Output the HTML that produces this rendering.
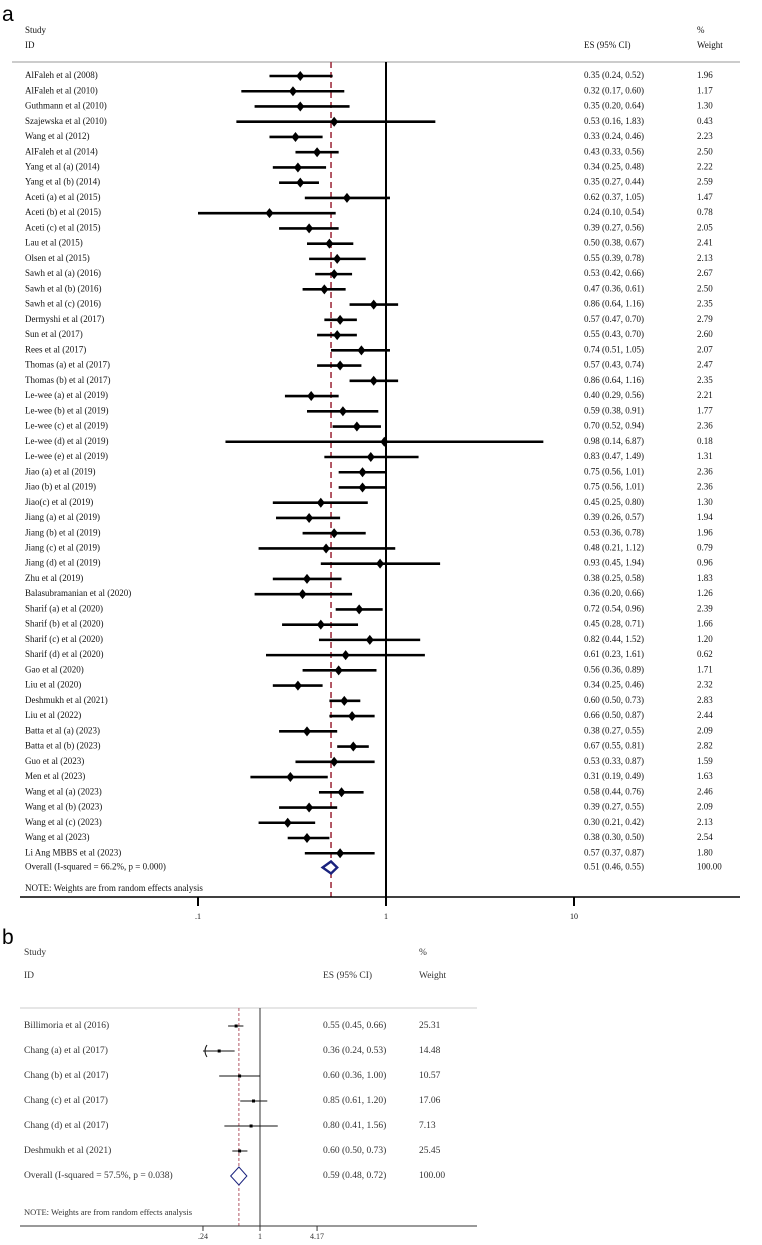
<!DOCTYPE html>
<html><head><meta charset="utf-8"><style>
body{margin:0;background:#fff}
svg text{font-family:"Liberation Serif",serif}
</style></head><body>
<svg id="chart" width="762" height="1240" xmlns="http://www.w3.org/2000/svg">
<text x="2" y="21" font-family="Liberation Sans, sans-serif" style="font-family:'Liberation Sans',sans-serif" font-size="21">a</text>
<text x="2" y="944" style="font-family:'Liberation Sans',sans-serif" font-size="21">b</text>
<g id="pa"></g>
<g id="pb"></g>
</svg>
<script>
const aStudies=["AlFaleh et al (2008)","AlFaleh et al (2010)","Guthmann  et al (2010)","Szajewska et al (2010)","Wang et al (2012)","AlFaleh et al (2014)","Yang et al (a) (2014)","Yang et al (b) (2014)","Aceti (a) et al (2015)","Aceti (b) et al (2015)","Aceti (c) et al (2015)","Lau et al (2015)","Olsen et al (2015)","Sawh et al (a) (2016)","Sawh et al (b) (2016)","Sawh et al (c) (2016)","Dermyshi et al (2017)","Sun et al (2017)","Rees et al (2017)","Thomas (a) et al (2017)","Thomas (b) et al (2017)","Le-wee (a) et al  (2019)","Le-wee (b) et al (2019)","Le-wee (c) et al (2019)","Le-wee (d) et al (2019)","Le-wee (e) et al (2019)","Jiao (a) et al  (2019)","Jiao (b) et al (2019)","Jiao(c) et al (2019)","Jiang (a) et al (2019)","Jiang (b) et al (2019)","Jiang (c) et al (2019)","Jiang (d) et al (2019)","Zhu et al (2019)","Balasubramanian et al (2020)","Sharif (a) et al (2020)","Sharif (b) et al (2020)","Sharif (c) et al (2020)","Sharif (d) et al (2020)","Gao et al (2020)","Liu et al (2020)","Deshmukh et al (2021)","Liu et al (2022)","Batta et al (a) (2023)","Batta et al (b) (2023)","Guo et al (2023)","Men et al (2023)","Wang et al (a) (2023)","Wang et al (b) (2023)","Wang et al (c) (2023)","Wang et al (2023)","Li Ang MBBS et al (2023)"];
const aES=[0.35,0.32,0.35,0.53,0.33,0.43,0.34,0.35,0.62,0.24,0.39,0.50,0.55,0.53,0.47,0.86,0.57,0.55,0.74,0.57,0.86,0.40,0.59,0.70,0.98,0.83,0.75,0.75,0.45,0.39,0.53,0.48,0.93,0.38,0.36,0.72,0.45,0.82,0.61,0.56,0.34,0.60,0.66,0.38,0.67,0.53,0.31,0.58,0.39,0.30,0.38,0.57];
const aLo=[0.24,0.17,0.20,0.16,0.24,0.33,0.25,0.27,0.37,0.10,0.27,0.38,0.39,0.42,0.36,0.64,0.47,0.43,0.51,0.43,0.64,0.29,0.38,0.52,0.14,0.47,0.56,0.56,0.25,0.26,0.36,0.21,0.45,0.25,0.20,0.54,0.28,0.44,0.23,0.36,0.25,0.50,0.50,0.27,0.55,0.33,0.19,0.44,0.27,0.21,0.30,0.37];
const aHi=[0.52,0.60,0.64,1.83,0.46,0.56,0.48,0.44,1.05,0.54,0.56,0.67,0.78,0.66,0.61,1.16,0.70,0.70,1.05,0.74,1.16,0.56,0.91,0.94,6.87,1.49,1.01,1.01,0.80,0.57,0.78,1.12,1.94,0.58,0.66,0.96,0.71,1.52,1.61,0.89,0.46,0.73,0.87,0.55,0.81,0.87,0.49,0.76,0.55,0.42,0.50,0.87];
const aW=["1.96","1.17","1.30","0.43","2.23","2.50","2.22","2.59","1.47","0.78","2.05","2.41","2.13","2.67","2.50","2.35","2.79","2.60","2.07","2.47","2.35","2.21","1.77","2.36","0.18","1.31","2.36","2.36","1.30","1.94","1.96","0.79","0.96","1.83","1.26","2.39","1.66","1.20","0.62","1.71","2.32","2.83","2.44","2.09","2.82","1.59","1.63","2.46","2.09","2.13","2.54","1.80"];
const aOverall=[0.51,0.46,0.55];
const aTicks=[0.1,1,10];
const aTickLabels=[".1","1","10"];

const bStudies=["Billimoria et al (2016)","Chang (a) et al (2017)","Chang (b) et al (2017)","Chang (c) et al (2017)","Chang (d) et al (2017)","Deshmukh et al (2021)"];
const bES=[0.55,0.36,0.60,0.85,0.80,0.60];
const bLo=[0.45,0.24,0.36,0.61,0.41,0.50];
const bHi=[0.66,0.53,1.00,1.20,1.56,0.73];
const bW=["25.31","14.48","10.57","17.06","7.13","25.45"];
const bOverall=[0.59,0.48,0.72];
const bTicks=[0.24,1,4.17];
const bTickLabels=[".24","1","4.17"];

const NS="http://www.w3.org/2000/svg";
function mk(parent,tag,attrs){const e=document.createElementNS(NS,tag);for(const k in attrs)e.setAttribute(k,attrs[k]);parent.appendChild(e);return e;}
function txt(parent,x,y,s,size,fill,anchor){const t=mk(parent,'text',{x:x,y:y,'font-size':size,fill:fill,'dominant-baseline':'middle','text-anchor':anchor||'start'});t.textContent=s;return t;}
function fmt(e,l,h){return e.toFixed(2)+" ("+l.toFixed(2)+", "+h.toFixed(2)+")";}

// Panel A
(function(){
const g=document.getElementById('pa');
const x1=386, dec=188;
const xs=v=>x1+Math.log10(v)*dec;
const y0=76, step=15.24;
const ys=i=>y0+i*step;
const fs=9, col="#111";
let t;
t=txt(g,25,31,"Study",fs,col);
t=txt(g,25,46,"ID",fs,col);
t=txt(g,584,46,"ES (95% CI)",fs,col);
t=txt(g,697,31,"%",fs,col);
t=txt(g,697,46,"Weight",fs,col);
let l=mk(g,'line',{x1:12,x2:740,y1:62,y2:62,stroke:'#bbb','stroke-width':1.5});

const yAxis=897;
l=mk(g,'line',{x1:x1,x2:x1,y1:62,y2:yAxis,stroke:'#000','stroke-width':2});

l=mk(g,'line',{x1:xs(aOverall[0]),x2:xs(aOverall[0]),y1:62,y2:yAxis,stroke:'#a03040','stroke-width':1.6,'stroke-dasharray':'6,4'});

for(let i=0;i<aStudies.length;i++){
 const y=ys(i);
 t=txt(g,25,y,aStudies[i],fs,col);
 t=txt(g,584,y,fmt(aES[i],aLo[i],aHi[i]),fs,col);
 t=txt(g,697,y,aW[i],fs,col);
 l=mk(g,'line',{x1:xs(aLo[i]),x2:xs(aHi[i]),y1:y,y2:y,stroke:'#000','stroke-width':2.6});
 
 const cx=xs(aES[i]);
 const p=mk(g,'polygon',{points:(cx-4)+','+y+' '+cx+','+(y-5)+' '+(cx+4)+','+y+' '+cx+','+(y+5),fill:'#000'});
 
}
const oy=ys(aStudies.length)-1;
t=txt(g,25,oy,"Overall  (I-squared = 66.2%, p = 0.000)",fs,col);
t=txt(g,584,oy,fmt(aOverall[0],aOverall[1],aOverall[2]),fs,col);
t=txt(g,697,oy,"100.00",fs,col);
const d=mk(g,'polygon',{points:xs(aOverall[1])+','+oy+' '+xs(aOverall[0])+','+(oy-6)+' '+xs(aOverall[2])+','+oy+' '+xs(aOverall[0])+','+(oy+6),fill:'#fff',stroke:'#1a237e','stroke-width':2.4});

t=txt(g,25,889,"NOTE: Weights are from random effects analysis",fs,col);
l=mk(g,'line',{x1:20,x2:740,y1:yAxis,y2:yAxis,stroke:'#000','stroke-width':1.5});

for(let i=0;i<aTicks.length;i++){
 const x=xs(aTicks[i]);
 l=mk(g,'line',{x1:x,x2:x,y1:yAxis,y2:yAxis+9,stroke:'#000','stroke-width':2});
 
 t=txt(g,x,917,aTickLabels[i],8,col,'middle');
}
})();

// Panel B
(function(){
const g=document.getElementById('pb');
const x1=260, dec=92;
const xs=v=>x1+Math.log10(v)*dec;
const y0=1026, step=25;
const ys=i=>y0+i*step;
const fs=9.5, col="#333";
const xmin=xs(bTicks[0]);
let t,l;
t=txt(g,24,953,"Study",fs,col);
t=txt(g,24,976,"ID",fs,col);
t=txt(g,323,976,"ES (95% CI)",fs,col);
t=txt(g,419,953,"%",fs,col);
t=txt(g,419,976,"Weight",fs,col);
l=mk(g,'line',{x1:20,x2:477,y1:1008,y2:1008,stroke:'#ccc','stroke-width':1});

const yAxis=1226;
l=mk(g,'line',{x1:x1,x2:x1,y1:1008,y2:yAxis,stroke:'#333','stroke-width':1});

l=mk(g,'line',{x1:xs(bOverall[0]),x2:xs(bOverall[0]),y1:1008,y2:yAxis,stroke:'#a03040','stroke-width':0.8,'stroke-dasharray':'3,2'});

for(let i=0;i<bStudies.length;i++){
 const y=ys(i);
 t=txt(g,24,y,bStudies[i],fs,col);
 t=txt(g,323,y,fmt(bES[i],bLo[i],bHi[i]),fs,col);
 t=txt(g,419,y,bW[i],fs,col);
 const lo=Math.max(xs(bLo[i]),xmin);
 l=mk(g,'line',{x1:lo,x2:xs(bHi[i]),y1:y,y2:y,stroke:'#111','stroke-width':1});
 
 if(xs(bLo[i])<=xmin+0.5){
  const a=mk(g,'path',{d:'M'+(xmin+4)+','+(y-6)+' Q'+xmin+','+y+' '+(xmin+4)+','+(y+6),fill:'none',stroke:'#111','stroke-width':1});
  
 }
 const cx=xs(bES[i]);
 const r=mk(g,'rect',{x:cx-1.5,y:y-1.5,width:3,height:3,fill:'#000'});
 
}
const oy=1176;
t=txt(g,24,oy,"Overall  (I-squared = 57.5%, p = 0.038)",fs,col);
t=txt(g,323,oy,fmt(bOverall[0],bOverall[1],bOverall[2]),fs,col);
t=txt(g,419,oy,"100.00",fs,col);
const d=mk(g,'polygon',{points:xs(bOverall[1])+','+oy+' '+xs(bOverall[0])+','+(oy-9)+' '+xs(bOverall[2])+','+oy+' '+xs(bOverall[0])+','+(oy+9),fill:'#fff',stroke:'#1a237e','stroke-width':1});

t=txt(g,24,1213,"NOTE: Weights are from random effects analysis",8.5,col);
l=mk(g,'line',{x1:20,x2:477,y1:yAxis,y2:yAxis,stroke:'#333','stroke-width':1});

for(let i=0;i<bTicks.length;i++){
 const x=xs(bTicks[i]);
 l=mk(g,'line',{x1:x,x2:x,y1:yAxis,y2:yAxis+5,stroke:'#333','stroke-width':1});
 
 t=txt(g,x,1237,bTickLabels[i],8,col,'middle');
}
})();
</script>
</body></html>
